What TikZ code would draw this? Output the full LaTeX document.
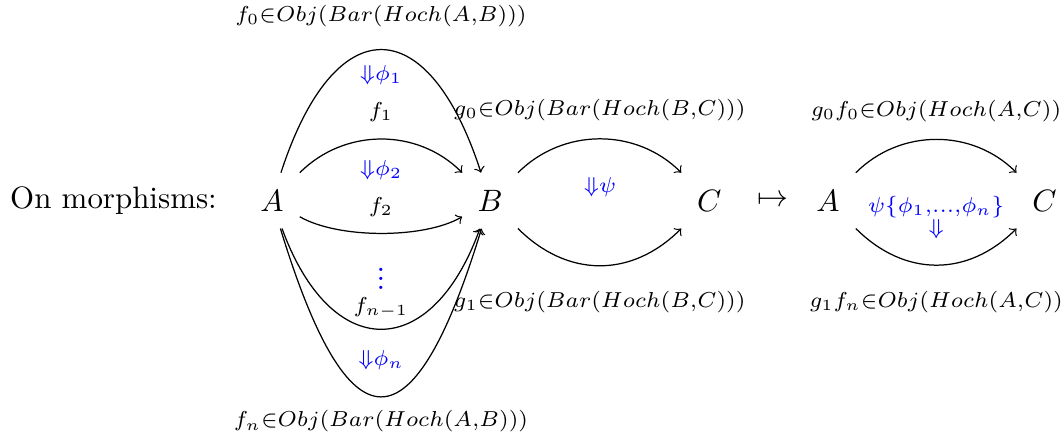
\documentclass[tikz,border=0pt]{standalone}
\usetikzlibrary{positioning,calc}
\newcommand{\cellvdots}{\vbox{\baselineskip2.9pt\lineskiplimit0pt\hbox{.}\hbox{.}\hbox{.}}}
\begin{document}
\begin{tikzpicture}[
  obj/.style={inner sep=0pt,minimum width=0.62cm,minimum height=0.62cm},
  lab/.style={font=\fontsize{7.5}{9}\selectfont},
  cell/.style={font=\fontsize{7.5}{9}\selectfont,text=blue},
  map/.style={->,thin}
]
  \useasboundingbox (-3.09,-2.68) rectangle (8.98,2.28);
  \node (lbl) at (-1.80,0) {On morphisms:};
  \node[obj] (A) at (0,0) {$A$};
  \node[obj] (B) at (2.48,0) {$B$};
  \node[obj] (C) at (4.97,0) {$C$};
  \node (to) at (5.69,0) {$\mapsto$};
  \node[obj] (A2) at (6.32,0) {$A$};
  \node[obj] (C2) at (8.78,0) {$C$};

  \draw[map] (A) to[out=72,in=108,looseness=2.21] node[lab,above=4pt] {$f_0{\in}Obj(Bar(Hoch(A{,}B)))$} (B);
  \draw[map] (A) to[out=45,in=135] node[lab,above=2pt] {$f_1$} (B);
  \draw[map] (A) to[out=-30,in=-150,looseness=0.7] node[lab,above=1.8pt] {$f_2$} (B);
  \draw[map] (A) to[out=-70,in=-110,looseness=1.85] node[lab,inner sep=0.5pt,above=3pt] {$f_{n-1}$} (B);
  \draw[map] (A) to[out=-73,in=-107,looseness=2.99] node[lab,below=1pt] {$f_n{\in}Obj(Bar(Hoch(A{,}B)))$} (B);

  \draw[map] (B) to[out=45,in=135] node[lab,above=2.3pt] {$g_0{\in}Obj(Bar(Hoch(B{,}C)))$} (C);
  \draw[map] (B) to[out=-45,in=-135,looseness=1.1] node[lab,below=4.8pt] {$g_1{\in}Obj(Bar(Hoch(B{,}C)))$} (C);

  \draw[map] (A2) to[out=45,in=135] node[lab,above=2.3pt] {$g_0f_0{\in}Obj(Hoch(A{,}C))$} (C2);
  \draw[map] (A2) to[out=-45,in=-135,looseness=1.1] node[lab,below=4.8pt] {$g_1f_n{\in}Obj(Hoch(A{,}C))$} (C2);

  \node[cell] (phi1) at (1.24,1.43) {${\Downarrow}\phi_1$};
  \node[cell] (phi2) at (1.24,0.35) {${\Downarrow}\phi_2$};
  \node[cell,font=\normalsize,inner sep=0pt] (dots) at (1.24,-0.89) {$\cellvdots$};
  \node[cell] (phin) at (1.24,-1.81) {${\Downarrow}\phi_n$};
  \node[cell] (psi) at (3.73,0.15) {${\Downarrow}\psi$};
  \node[cell] (comp) at (7.55,-0.07) {$\psi\{\phi_1{,}...{,}\phi_n\}$};
  \node[cell] (comparr) at (7.55,-0.32) {${\Downarrow}$};
\end{tikzpicture}
\end{document}
